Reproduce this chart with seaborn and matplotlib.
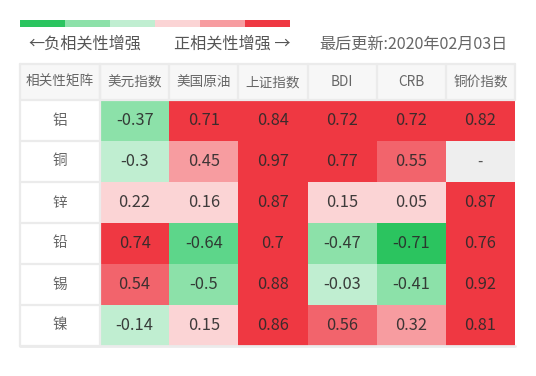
import numpy as np
import pandas as pd
import matplotlib
matplotlib.use('Agg')
import matplotlib.pyplot as plt
import seaborn as sns
from matplotlib.colors import ListedColormap, BoundaryNorm
from matplotlib.patches import Rectangle

# ---------------- data ----------------
rows = ['铝', '铜', '锌', '铅', '锡', '镍']
cols = ['美元指数', '美国原油', '上证指数', 'BDI', 'CRB', '铜价指数']
corner = '相关性矩阵'
usd_index = [-0.37, -0.3, 0.22, 0.74, 0.54, -0.14]
us_oil = [0.71, 0.45, 0.16, -0.64, -0.5, 0.15]
sse_index = [0.84, 0.97, 0.87, 0.7, 0.88, 0.86]
bdi = [0.72, 0.77, 0.15, -0.47, -0.03, 0.56]
crb = [0.72, 0.55, 0.05, -0.71, -0.41, 0.32]
copper_index = [0.82, np.nan, 0.87, 0.76, 0.92, 0.81]
left_label = '←负相关性增强'
right_label = '正相关性增强 →'
update_label = '最后更新:2020年02月03日'

# ---------------- style ----------------
sns.set_theme(style='white')
plt.rcParams['font.family'] = ['Noto Sans CJK SC', 'DejaVu Sans']

W, H = 536, 376
fig = plt.figure(figsize=(W / 100, H / 100), dpi=100)

df = pd.DataFrame({c: v for c, v in zip(cols, [usd_index, us_oil, sse_index, bdi, crb, copper_index])}, index=rows)

colors = ['#2bc45f', '#5dd68a', '#8ce1a9', '#c0eed1', '#fbd4d5', '#f79ca0', '#f2646c', '#ef3842']
bounds = [-1.0, -0.7, -0.6, -0.35, 0.0, 0.3, 0.5, 0.7, 1.01]
cmap = ListedColormap(colors)
norm = BoundaryNorm(bounds, cmap.N)

# table geometry in pixels
tx0, tx1 = 20, 515
lab_w = 80
hdr_top, hdr_bot, tbl_bot = 64, 100, 346
ax = fig.add_axes([(tx0 + lab_w) / W, 1 - tbl_bot / H, (tx1 - tx0 - lab_w) / W, (tbl_bot - hdr_bot) / H])
ax.set_facecolor('#eeeeee')

labels = df.map(lambda v: '' if pd.isna(v) else f'{v:g}')
sns.heatmap(df, ax=ax, cmap=cmap, norm=norm, cbar=False, annot=labels, fmt='',
            annot_kws={'fontsize': 11.8, 'color': '#2a2a2a', 'alpha': 0.9},
            xticklabels=False, yticklabels=False)
ax.set_xlabel('')
ax.set_ylabel('')
for s in ax.spines.values():
    s.set_visible(False)

# missing values
for i, r in enumerate(rows):
    for j, c in enumerate(cols):
        if pd.isna(df.loc[r, c]):
            ax.text(j + 0.5, i + 0.5, '-', ha='center', va='center', fontsize=11, color='#555555')

xu = (tx1 - tx0 - lab_w) / len(cols)
yu = (tbl_bot - hdr_bot) / len(rows)
lx = -lab_w / xu
hy = -(hdr_bot - hdr_top) / yu
grid = '#ebebeb'

# header row
ax.add_patch(Rectangle((lx, hy), len(cols) - lx, -hy, facecolor='#f7f7f7', edgecolor='none', clip_on=False, zorder=3))
ax.text(lx / 2, hy / 2, corner, ha='center', va='center', fontsize=9.8, color='#666666', clip_on=False, zorder=5)
for j, c in enumerate(cols):
    ax.text(j + 0.5, hy / 2, c, ha='center', va='center', fontsize=9.8, color='#666666', clip_on=False, zorder=5)
    ax.plot([j, j], [hy, 0], color=grid, lw=1.6, clip_on=False, zorder=4)
ax.plot([len(cols), len(cols)], [hy, 0], color=grid, lw=1.6, clip_on=False, zorder=4)
ax.plot([lx, len(cols)], [hy, hy], color=grid, lw=1.6, clip_on=False, zorder=4)
ax.plot([lx, len(cols)], [0, 0], color=grid, lw=1.6, clip_on=False, zorder=4)

# row label column
ax.add_patch(Rectangle((lx, 0), -lx, len(rows), facecolor='white', edgecolor='none', clip_on=False, zorder=3))
for i, r in enumerate(rows):
    ax.text(lx / 2, i + 0.5, r, ha='center', va='center', fontsize=10.5, color='#666666', clip_on=False, zorder=5)
    ax.plot([lx, 0], [i + 1, i + 1], color=grid, lw=1.6, clip_on=False, zorder=4)
ax.plot([lx, lx], [hy, len(rows)], color=grid, lw=1.6, clip_on=False, zorder=4)
ax.plot([0, 0], [hy, len(rows)], color=grid, lw=1.6, clip_on=False, zorder=4)
ax.plot([lx, len(cols)], [len(rows), len(rows)], color=grid, lw=2, clip_on=False, zorder=4)

# legend bar
bar_cols = ['#2bc45f', '#8ce1a9', '#c0eed1', '#fbd4d5', '#f79ca0', '#ef3842']
bx0, bx1, by0, by1 = 20, 290, 20, 27
seg = (bx1 - bx0) / len(bar_cols)
for k, col in enumerate(bar_cols):
    fig.add_artist(Rectangle(((bx0 + k * seg) / W, 1 - by1 / H), seg / W, (by1 - by0) / H,
                             facecolor=col, edgecolor='none', transform=fig.transFigure))

ty = 1 - 44 / H
fig.text(28 / W, ty, left_label, ha='left', va='center', fontsize=11.6, color='#555555')
fig.text(174 / W, ty, right_label, ha='left', va='center', fontsize=11.6, color='#555555')
fig.text(508 / W, ty, update_label, ha='right', va='center', fontsize=11.6, color='#666666')

fig.savefig('out.png', dpi=100)
